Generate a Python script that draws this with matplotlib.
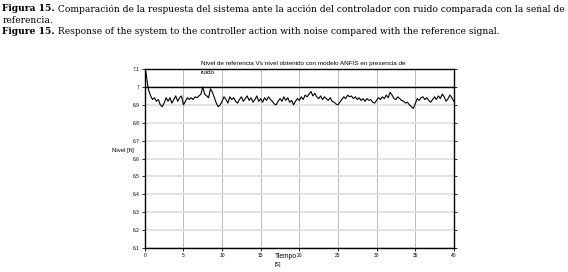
import numpy as np
import matplotlib
matplotlib.use('Agg')
import matplotlib.pyplot as plt

# datos
t_arranque = [0.0, 0.05, 0.15, 0.3, 0.5, 0.75]
nivel_arranque = [6.1, 7.1, 7.08, 7.03, 6.98, 6.95]

# a partir de t = 1 s, muestras cada 0.25 s
nivel = [
    6.93, 6.94, 6.92, 6.93, 6.90, 6.89, 6.91, 6.94, 6.92, 6.94, 6.91, 6.93,
    6.95, 6.92, 6.94, 6.95, 6.90, 6.92, 6.94, 6.93, 6.94, 6.93, 6.945, 6.94,
    6.95, 6.96, 7.00, 6.96, 6.95, 6.94, 6.99, 6.97, 6.94, 6.91, 6.89, 6.90,
    6.92, 6.945, 6.93, 6.91, 6.945, 6.93, 6.94, 6.92,
    6.91, 6.93, 6.945, 6.92, 6.935, 6.95, 6.925, 6.94, 6.915, 6.93, 6.95, 6.92,
    6.935, 6.915, 6.94, 6.925, 6.945, 6.93, 6.92, 6.905, 6.90, 6.92, 6.935, 6.92,
    6.945, 6.925, 6.94, 6.915, 6.925, 6.90, 6.92, 6.935, 6.925, 6.945, 6.93, 6.955,
    6.945, 6.96, 6.975, 6.95, 6.965, 6.945, 6.935, 6.95, 6.93, 6.945, 6.935, 6.925,
    6.94, 6.92, 6.915, 6.905, 6.90, 6.915, 6.93, 6.945, 6.935, 6.955, 6.945, 6.95,
    6.935, 6.945, 6.93, 6.94, 6.925, 6.935, 6.92, 6.935, 6.925, 6.93, 6.915, 6.91,
    6.925, 6.94, 6.93, 6.945, 6.935, 6.955, 6.94, 6.97, 6.955, 6.935, 6.93, 6.945,
    6.935, 6.925, 6.92, 6.91, 6.915, 6.90, 6.89, 6.88, 6.905, 6.935, 6.925, 6.94,
    6.945, 6.93, 6.94, 6.925, 6.915, 6.93, 6.945, 6.93, 6.95, 6.935, 6.96, 6.945,
    6.92, 6.935, 6.955, 6.94, 6.92,
]
t_resto = 1.0 + 0.25 * np.arange(len(nivel))

tiempo = np.concatenate([t_arranque, t_resto])
salida = np.concatenate([nivel_arranque, nivel])
referencia = 7.0

x_ticks = [0, 5, 10, 15, 20, 25, 30, 35, 40]
y_ticks = [6.1, 6.2, 6.3, 6.4, 6.5, 6.6, 6.7, 6.8, 6.9, 7.0, 7.1]
y_labels = ['6.1', '6.2', '6.3', '6.4', '6.5', '6.6', '6.7', '6.8', '6.9', '7', '7.1']

fig = plt.figure(figsize=(5.68, 2.72), dpi=100)
renderer = fig.canvas.get_renderer()

# pie de figura: parte en negrita y resto a continuación
serif = 'DejaVu Serif'
fs_cap = 6.55
lineas = [
    ('Figura 15.', ' Comparación de la respuesta del sistema ante la acción del controlador con ruido comparada con la señal de', 0.985),
    ('', 'referencia.', 0.943),
    ('Figure 15.', ' Response of the system to the controller action with noise compared with the reference signal.', 0.900),
]
for negrita, resto, y in lineas:
    x0 = 0.004
    if negrita:
        tb = fig.text(x0, y, negrita, family=serif, fontsize=fs_cap, weight='bold', va='top')
        bb = tb.get_window_extent(renderer)
        x0 = bb.x1 / fig.bbox.width
    fig.text(x0, y, resto, family=serif, fontsize=fs_cap, va='top')

ax = fig.add_axes([0.255, 0.088, 0.544, 0.658])
ax.plot(tiempo, salida, color='black', lw=0.8, zorder=3)
ax.axhline(referencia, color='black', lw=1.0, zorder=3)

ax.set_xlim(0, 40)
ax.set_ylim(6.1, 7.1)
ax.set_xticks(x_ticks)
ax.set_yticks(y_ticks)
ax.set_yticklabels(y_labels)
ax.xaxis.grid(True, color='#b0b0b0', lw=0.6)
ax.yaxis.grid(True, color='#dedede', lw=1.2)
ax.tick_params(labelsize=3.5, length=2, width=0.6, colors='black', pad=1.5)
ax.tick_params(axis='y', right=True, direction='out')
for lbl in ax.get_xticklabels() + ax.get_yticklabels():
    lbl.set_family('Liberation Sans')
for s in ax.spines.values():
    s.set_linewidth(1.0)

fig.text(0.198, 0.447, 'Nivel [ft]', family='Liberation Sans', fontsize=4.3, va='center')
fig.text(0.484, 0.058, 'Tiempo', family='Liberation Sans', fontsize=4.8, va='center')
fig.text(0.484, 0.028, '[S]', family='Liberation Sans', fontsize=3.8, va='center')

fig.text(0.354, 0.765, 'Nivel de referencia Vs nivel obtenido con modelo ANFIS en presencia de',
         family='Liberation Sans', fontsize=4.6, va='center')
fig.text(0.354, 0.733, 'ruido', family='Liberation Sans', fontsize=4.6, va='center')

fig.savefig('out.png', dpi=100)
